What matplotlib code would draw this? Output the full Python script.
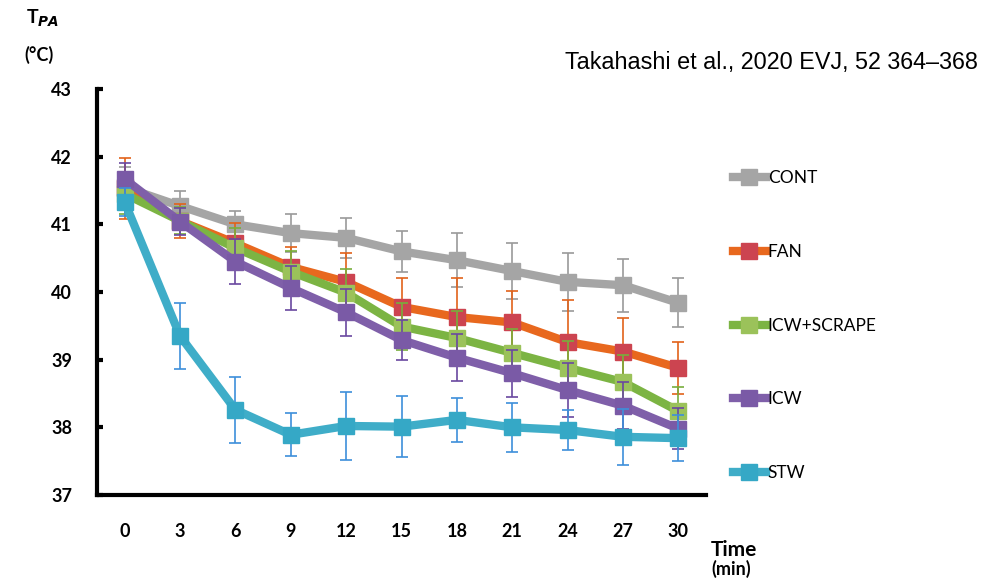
import matplotlib.pyplot as plt
import numpy as np

# ----- data -----
times = ["0", "3", "6", "9", "12", "15", "18", "21", "24", "27", "30"]
groups = ["CONT", "FAN", "ICW+SCRAPE", "ICW", "STW"]

cont = [41.55, 41.27, 41.00, 40.87, 40.80, 40.60, 40.47, 40.31, 40.15, 40.10, 39.84]
fan = [41.53, 41.05, 40.72, 40.37, 40.15, 39.78, 39.63, 39.55, 39.26, 39.12, 38.88]
icw_scrape = [41.45, 41.05, 40.65, 40.30, 39.99, 39.49, 39.32, 39.10, 38.88, 38.67, 38.24]
icw = [41.67, 41.04, 40.45, 40.06, 39.70, 39.29, 39.03, 38.80, 38.55, 38.32, 37.98]
stw = [41.33, 39.35, 38.26, 37.89, 38.02, 38.01, 38.11, 38.00, 37.96, 37.86, 37.84]

cont_sd = [0.30, 0.22, 0.20, 0.28, 0.30, 0.30, 0.40, 0.42, 0.43, 0.39, 0.36]
fan_sd = [0.45, 0.25, 0.30, 0.30, 0.43, 0.42, 0.57, 0.47, 0.62, 0.50, 0.38]
icw_scrape_sd = [0.30, 0.20, 0.30, 0.30, 0.35, 0.35, 0.40, 0.35, 0.40, 0.40, 0.35]
icw_sd = [0.23, 0.20, 0.33, 0.32, 0.35, 0.30, 0.35, 0.35, 0.40, 0.35, 0.30]
stw_sd = [0.20, 0.49, 0.49, 0.32, 0.50, 0.45, 0.32, 0.36, 0.30, 0.41, 0.34]

series = [cont, fan, icw_scrape, icw, stw]
errors = [cont_sd, fan_sd, icw_scrape_sd, icw_sd, stw_sd]

line_cols = ["#A5A5A5", "#E8681E", "#7CB443", "#7F5FA9", "#3FADC8"]
marker_cols = ["#A5A5A5", "#CC4450", "#9BC25A", "#7A5AA6", "#35A8C6"]
err_cols = ["#9A9A9A", "#E2621A", "#78AE3C", "#6A48A0", "#3D8FDA"]

plt.rcParams['font.family'] = ['Lato', 'DejaVu Sans']

fig = plt.figure(figsize=(9.96, 5.79), dpi=100)
ax = fig.add_axes([97/996, (579-495)/579, (706-97)/996, (495-89)/579])

x = np.arange(len(times))
for i in range(len(groups)):
    ax.errorbar(x, series[i], yerr=errors[i], fmt='none', ecolor=err_cols[i],
                elinewidth=1.2, capsize=4, capthick=1.2, zorder=3 + 2*i)
    ax.plot(x, series[i], color=line_cols[i], lw=6, marker='s', ms=11,
            mfc=marker_cols[i], mec=marker_cols[i], label=groups[i],
            zorder=4 + 2*i, solid_joinstyle='round')

ax.set_xlim(-0.5, len(times) - 0.5)
ax.set_ylim(37, 43)
ax.set_xticks(x)
ax.set_xticklabels(times)
ax.set_yticks(range(37, 44))

for s in ['top', 'right']:
    ax.spines[s].set_visible(False)
for s in ['left', 'bottom']:
    ax.spines[s].set_linewidth(3)
    ax.spines[s].set_color('black')

ax.tick_params(axis='x', length=0, pad=20, labelsize=13)
ax.tick_params(axis='y', direction='in', length=4, width=3, pad=18, labelsize=13)
for lab in ax.get_xticklabels() + ax.get_yticklabels():
    lab.set_fontweight('bold')

leg = ax.legend(loc='upper left', bbox_to_anchor=(733/996, (579-170)/579),
                bbox_transform=fig.transFigure, frameon=False, fontsize=12.5,
                labelspacing=3.33, handlelength=1.9, handletextpad=0.1,
                borderpad=0, borderaxespad=0)

fig.text(26/996, 1 - 18/579, r"T$_{\mathbfit{PA}}$", fontsize=14, fontweight='bold',
         va='center', ha='left')
fig.text(24/996, 1 - 55/579, "(°C)", fontsize=13, fontweight='bold',
         va='center', ha='left')
fig.text(711/996, 1 - 550/579, "Time", fontsize=15, fontweight='bold',
         va='center', ha='left')
fig.text(711/996, 1 - 569/579, "(min)", fontsize=13, fontweight='bold',
         va='center', ha='left')

fig.text(978/996, 1 - 62/579, "Takahashi et al., 2020 EVJ, 52 364–368",
         fontsize=16.8, family='Liberation Sans', ha='right', va='center')

fig.savefig("out.png", dpi=100)
